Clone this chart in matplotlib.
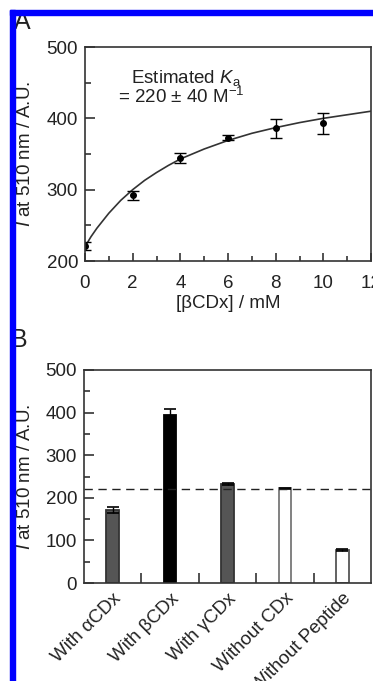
import matplotlib
matplotlib.use('Agg')
import matplotlib.pyplot as plt
from matplotlib.patches import Rectangle
from matplotlib.ticker import MultipleLocator, FixedLocator

plt.rcParams['font.family'] = ['Liberation Sans', 'DejaVu Sans']
plt.rcParams['mathtext.fontset'] = 'custom'
plt.rcParams['mathtext.rm'] = 'Liberation Sans'
plt.rcParams['mathtext.it'] = 'Liberation Sans:italic'

# Panel A: titration with beta-CDx
conc = [0, 2, 4, 6, 8, 10]
intensity = [221, 292, 344, 373, 386, 393]
intensity_err = [6, 6, 7, 3, 13, 15]

# fitted curve
fit_x = [0, 0.25, 0.5, 1, 1.5, 2, 2.5, 3, 3.5, 4, 5, 6, 7, 8, 9, 10, 11, 12]
fit_y = [220, 234, 246, 267, 285, 300, 313, 324, 334, 343, 357, 369, 379, 387, 394, 400, 405, 410]

# Panel B: different conditions
conditions = ['With αCDx', 'With βCDx', 'With γCDx', 'Without CDx', 'Without Peptide']
values = [171, 394, 233, 222, 77]
errors = [7, 14, 2, 2, 2]
face_colors = ['#555555', '#000000', '#555555', 'white', 'white']
edge_colors = ['#333333', '#000000', '#333333', '#777777', '#555555']
baseline = 220

fig = plt.figure(figsize=(3.73, 6.81), dpi=100)

# blue frame at top and left
fig.add_artist(Rectangle((10 / 373, 0), 5 / 373, 671 / 681, transform=fig.transFigure,
                         color='#0000ff', zorder=10))
fig.add_artist(Rectangle((10 / 373, 666 / 681), 363 / 373, 5 / 681, transform=fig.transFigure,
                         color='#0000ff', zorder=10))

fs = 13.5
spine_col = '#333333'
txt_col = '#222222'

# ---- Panel A ----
axA = fig.add_axes([85 / 373, 1 - 261 / 681, 286 / 373, 214 / 681])
axA.plot(fit_x, fit_y, color='#333333', lw=1.2)
axA.errorbar(conc, intensity, yerr=intensity_err, fmt='o', color='black', ms=4,
             elinewidth=1, capsize=4, capthick=1)
axA.set_xlim(0, 12)
axA.set_ylim(200, 500)
axA.xaxis.set_major_locator(MultipleLocator(2))
axA.xaxis.set_minor_locator(MultipleLocator(1))
axA.yaxis.set_major_locator(MultipleLocator(100))
axA.yaxis.set_minor_locator(MultipleLocator(50))
axA.set_xlabel('[βCDx] / mM', fontsize=fs, color=txt_col)
axA.xaxis.set_label_coords(0.5, -34 / 214)
axA.set_ylabel('$I$ at 510 nm / A.U.', fontsize=fs, color=txt_col)
axA.yaxis.set_label_coords(-51 / 286, 0.5)
axA.text(0.353, 0.855, 'Estimated $K$$_\\mathrm{a}$', transform=axA.transAxes,
         fontsize=fs, ha='center', va='center', color=txt_col)
axA.text(0.337, 0.766, '= 220 ± 40 M$^{\\mathrm{-1}}$', transform=axA.transAxes,
         fontsize=fs, ha='center', va='center', color=txt_col)

# ---- Panel B ----
axB = fig.add_axes([84 / 373, 1 - 583 / 681, 287 / 373, 213 / 681])
pos = [i + 0.5 for i in range(len(conditions))]
axB.bar(pos, values, width=0.22, color=face_colors, edgecolor=edge_colors, linewidth=1.3,
        yerr=errors, error_kw=dict(ecolor='black', elinewidth=1, capsize=4, capthick=1.2))
axB.axhline(baseline, color=txt_col, lw=1, ls=(0, (6, 4)))
axB.set_xlim(0, 5)
axB.set_ylim(0, 500)
axB.set_xticks(pos)
axB.set_xticklabels(conditions, rotation=45, ha='right', va='top', rotation_mode='anchor',
                    fontsize=fs, color=txt_col)
axB.xaxis.set_minor_locator(FixedLocator([1, 2, 3, 4]))
axB.yaxis.set_major_locator(MultipleLocator(100))
axB.yaxis.set_minor_locator(MultipleLocator(50))
axB.set_ylabel('$I$ at 510 nm / A.U.', fontsize=fs, color=txt_col)
axB.yaxis.set_label_coords(-50 / 287, 0.5)
axB.tick_params(axis='x', which='major', length=0, pad=5)
axB.tick_params(axis='x', which='minor', length=7, width=1.2, direction='in', color=spine_col)

for ax in (axA, axB):
    for s in ax.spines.values():
        s.set_color(spine_col)
        s.set_linewidth(1.2)
    ax.tick_params(axis='y', which='major', direction='in', length=7, width=1.2,
                   labelsize=fs, pad=5, color=spine_col, labelcolor=txt_col)
    ax.tick_params(axis='y', which='minor', direction='in', length=4, width=1.2, color=spine_col)
axA.tick_params(axis='x', which='major', direction='in', length=6, width=1.2,
                labelsize=fs, pad=10, color=spine_col, labelcolor=txt_col)
axA.tick_params(axis='x', which='minor', direction='in', length=3.5, width=1.2, color=spine_col)

fig.text(14 / 373, 1 - 22 / 681, 'A', fontsize=18, ha='left', va='center', color=txt_col)
fig.text(11 / 373, 1 - 340 / 681, 'B', fontsize=18, ha='left', va='center', color=txt_col)

fig.savefig('out.png', dpi=100)
